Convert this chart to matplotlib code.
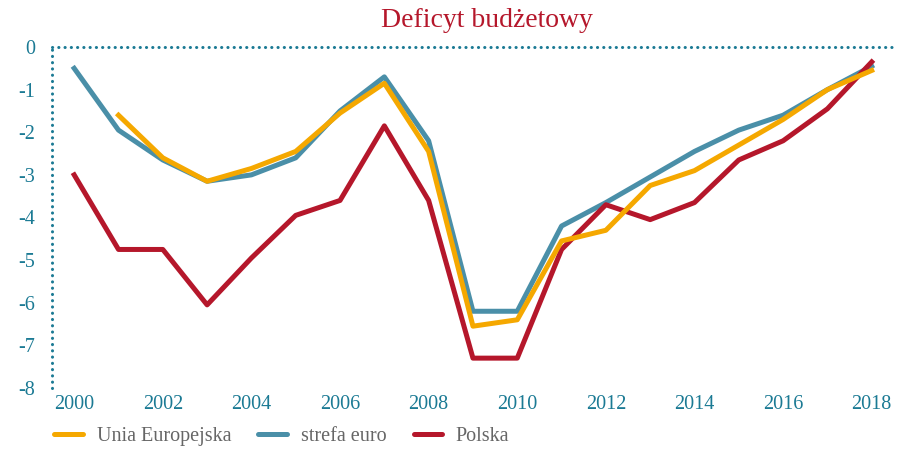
import matplotlib.pyplot as plt

# Budget deficit (% GDP)
years = list(range(2000, 2019))
ue = [None, -1.6, -2.6, -3.15, -2.85, -2.45, -1.55, -0.85, -2.45, -6.55, -6.4,
      -4.55, -4.3, -3.25, -2.9, -2.3, -1.7, -1.0, -0.55]
euro = [-0.5, -1.95, -2.65, -3.15, -3.0, -2.6, -1.5, -0.7, -2.2, -6.2, -6.2,
        -4.2, -3.65, -3.05, -2.45, -1.95, -1.6, -1.0, -0.45]
polska = [-3.0, -4.75, -4.75, -6.05, -4.95, -3.95, -3.6, -1.85, -3.6, -7.3, -7.3,
          -4.75, -3.7, -4.05, -3.65, -2.65, -2.2, -1.45, -0.35]
labels = ["Unia Europejska", "strefa euro", "Polska"]

orange = "#f5a800"
blue = "#4a8fa8"
red = "#b5172b"
teal = "#1b7a94"

plt.rcParams["font.family"] = ["Liberation Serif", "DejaVu Serif"]
plt.rcParams["axes.unicode_minus"] = False

fig = plt.figure(figsize=(9.08, 4.49), dpi=100)
ax = fig.add_axes([0.0573, 0.1359, 0.9247, 0.7594])

ue_x = [y for y, v in zip(years, ue) if v is not None]
ue_y = [v for v in ue if v is not None]
ax.plot(years, euro, color=blue, lw=3.6, label=labels[1])
ax.plot(years, polska, color=red, lw=3.6, label=labels[2])
ax.plot(ue_x, ue_y, color=orange, lw=3.6, label=labels[0])

ax.set_xlim(1999.5, 2018.45)
ax.set_ylim(-8, 0)
ax.set_xticks(range(2000, 2019, 2))
ax.set_yticks(range(-8, 1))
ax.tick_params(length=0, colors=teal, labelsize=14.5)
ax.tick_params(axis="y", pad=12)
ax.tick_params(axis="x", pad=5)

for s in ["right", "bottom"]:
    ax.spines[s].set_visible(False)
for s in ["top", "left"]:
    ax.spines[s].set_color(teal)
    ax.spines[s].set_linewidth(2.2)
    ax.spines[s].set_linestyle((0, (0.05, 2.0)))
    ax.spines[s].set_capstyle("round")

fig.text(0.536, 0.955, "Deficyt budżetowy", color=red, fontsize=20,
         ha="center", va="center")

h, l = ax.get_legend_handles_labels()
order = [2, 0, 1]
leg = fig.legend([h[i] for i in order], [l[i] for i in order], loc="lower left",
                 bbox_to_anchor=(0.04, -0.034), ncol=3, frameon=False,
                 fontsize=14.5, handlelength=1.4, handletextpad=0.7,
                 columnspacing=1.35, labelcolor="#666666")
for line in leg.get_lines():
    line.set_solid_capstyle("round")

fig.savefig("out.png", dpi=100)
